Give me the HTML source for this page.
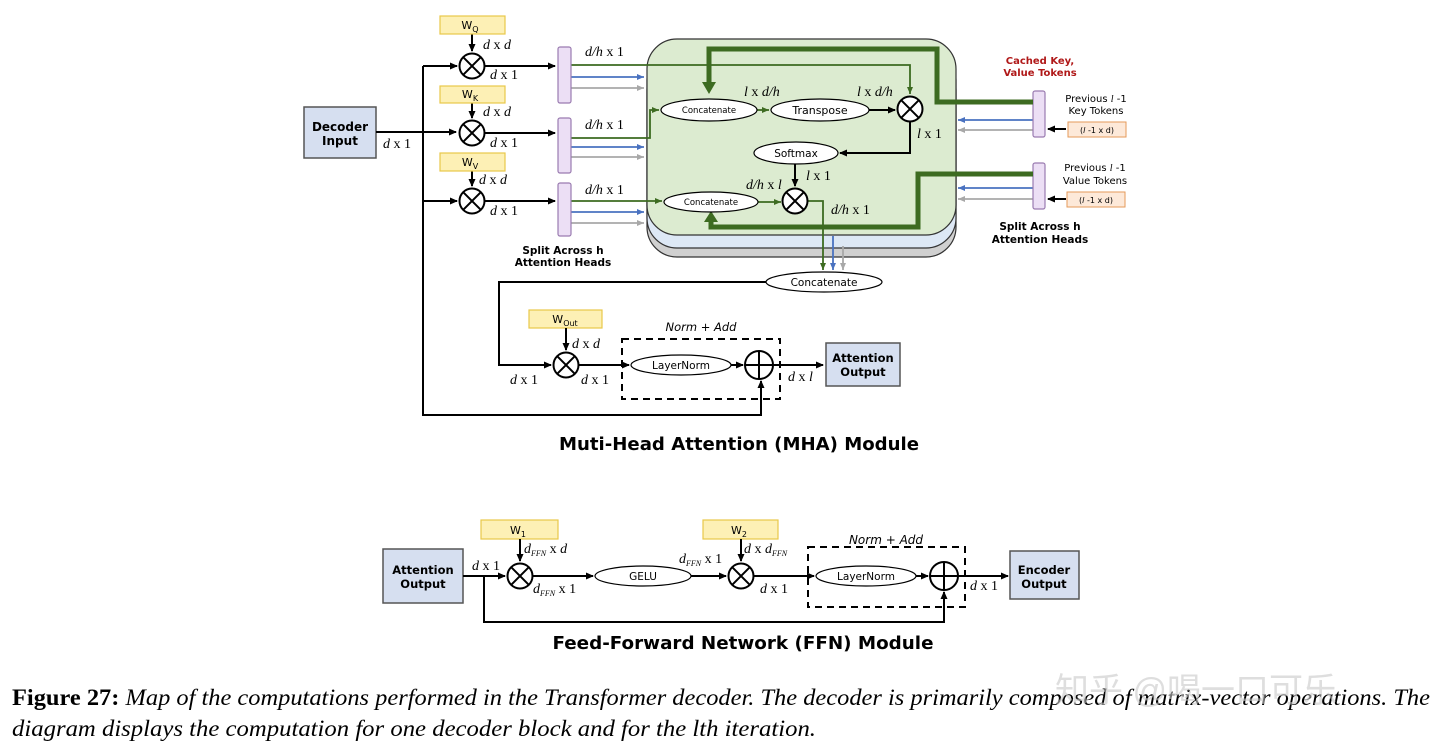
<!DOCTYPE html>
<html><head><meta charset="utf-8"><style>
html,body{margin:0;padding:0;background:#fff;}
svg{display:block}
.s{font-family:"DejaVu Sans","Liberation Sans",sans-serif;}
.m{font-family:"Liberation Serif",serif;font-style:italic;font-size:14px;}
</style></head><body>
<svg width="1440" height="750" viewBox="0 0 1440 750" xmlns="http://www.w3.org/2000/svg">
<defs>
<marker id="ak" markerWidth="8" markerHeight="8" refX="7" refY="4" orient="auto" markerUnits="userSpaceOnUse"><path d="M0,0.5 L8,4 L0,7.5z" fill="#000"/></marker>
<marker id="ag" markerWidth="8" markerHeight="8" refX="7" refY="4" orient="auto" markerUnits="userSpaceOnUse"><path d="M0,1 L7,4 L0,7z" fill="#3d6b21"/></marker>
<marker id="ab" markerWidth="8" markerHeight="8" refX="7" refY="4" orient="auto" markerUnits="userSpaceOnUse"><path d="M0,1 L7,4 L0,7z" fill="#4a72c0"/></marker>
<marker id="ay" markerWidth="8" markerHeight="8" refX="7" refY="4" orient="auto" markerUnits="userSpaceOnUse"><path d="M0,1 L7,4 L0,7z" fill="#a8a8a8"/></marker>
<marker id="aG" markerWidth="14" markerHeight="14" refX="8" refY="7" orient="auto" markerUnits="userSpaceOnUse"><path d="M0,0 L12,7 L0,14z" fill="#3d6b21"/></marker>
<g id="mul"><circle r="12.5" fill="#fff" stroke="#000" stroke-width="2"/><path d="M-8.8,-8.8 L8.8,8.8 M8.8,-8.8 L-8.8,8.8" stroke="#000" stroke-width="2"/></g>
<g id="plus"><circle r="14" fill="#fff" stroke="#000" stroke-width="2"/><path d="M-14,0 L14,0 M0,-14 L0,14" stroke="#000" stroke-width="2"/></g>
</defs>

<rect x="647" y="60" width="309" height="197" rx="30" fill="#d0d0d0" stroke="#333" stroke-width="1.2"/>
<rect x="647" y="50" width="309" height="198" rx="30" fill="#dde8f5" stroke="#333" stroke-width="1.2"/>
<rect x="647" y="39" width="309" height="196" rx="30" fill="#dcebd0" stroke="#333" stroke-width="1.2"/>

<rect x="304" y="107" width="72" height="51" fill="#d6dff0" stroke="#555" stroke-width="1.5"/>
<text class="s" x="340" y="131" font-size="12" font-weight="bold" text-anchor="middle">Decoder</text>
<text class="s" x="340" y="145" font-size="12" font-weight="bold" text-anchor="middle">Input</text>
<text class="m" x="383" y="148">d <tspan font-style="normal">x 1</tspan></text>

<g stroke="#000" stroke-width="2" fill="none">
<path d="M376,132 L456,132" marker-end="url(#ak)"/>
<path d="M423,66 L423,415 L761,415 L761,381" marker-end="url(#ak)"/>
<path d="M423,66 L457,66" marker-end="url(#ak)"/>
<path d="M423,201 L457,201" marker-end="url(#ak)"/>
<path d="M472,34 L472,51" marker-end="url(#ak)"/>
<path d="M472,103 L472,118" marker-end="url(#ak)"/>
<path d="M472,171 L472,186" marker-end="url(#ak)"/>
<path d="M485,66 L555,66" marker-end="url(#ak)"/>
<path d="M485,133 L555,133" marker-end="url(#ak)"/>
<path d="M485,201 L555,201" marker-end="url(#ak)"/>
</g>
<g fill="#fdf0b5" stroke="#e8c84a" stroke-width="1.2">
<rect x="440" y="16" width="65" height="18"/><rect x="440" y="86" width="65" height="17"/><rect x="440" y="153" width="65" height="18"/>
<rect x="529" y="310" width="73" height="18"/><rect x="481" y="520" width="77" height="19"/><rect x="703" y="520" width="75" height="19"/>
</g>
<g class="s" font-size="11" text-anchor="middle">
<text x="470" y="29">W<tspan font-size="8" dy="3">Q</tspan></text>
<text x="470" y="98">W<tspan font-size="8" dy="3">K</tspan></text>
<text x="470" y="166">W<tspan font-size="8" dy="3">V</tspan></text>
<text x="565" y="323">W<tspan font-size="8" dy="3">Out</tspan></text>
<text x="518" y="534">W<tspan font-size="8" dy="3">1</tspan></text>
<text x="739" y="534">W<tspan font-size="8" dy="3">2</tspan></text>
</g>
<use href="#mul" x="472" y="66"/><use href="#mul" x="472" y="133"/><use href="#mul" x="472" y="201"/>
<text class="m" x="483" y="49">d <tspan font-style="normal">x</tspan> d</text>
<text class="m" x="483" y="116">d <tspan font-style="normal">x</tspan> d</text>
<text class="m" x="479" y="184">d <tspan font-style="normal">x</tspan> d</text>
<text class="m" x="490" y="79">d <tspan font-style="normal">x 1</tspan></text>
<text class="m" x="490" y="147">d <tspan font-style="normal">x 1</tspan></text>
<text class="m" x="490" y="215">d <tspan font-style="normal">x 1</tspan></text>
<text class="m" x="585" y="56">d/h <tspan font-style="normal">x 1</tspan></text>
<text class="m" x="585" y="129">d/h <tspan font-style="normal">x 1</tspan></text>
<text class="m" x="585" y="194">d/h <tspan font-style="normal">x 1</tspan></text>

<g fill="none" stroke-width="1.8">
<path d="M571,65 L910,65 L910,94" stroke="#3d6b21" marker-end="url(#ag)"/>
<path d="M571,77 L644,77" stroke="#4a72c0" marker-end="url(#ab)"/>
<path d="M571,88 L644,88" stroke="#a8a8a8" marker-end="url(#ay)"/>
<path d="M571,138 L650,138 L650,110 L659,110" stroke="#3d6b21" marker-end="url(#ag)"/>
<path d="M571,147 L644,147" stroke="#4a72c0" marker-end="url(#ab)"/>
<path d="M571,157 L644,157" stroke="#a8a8a8" marker-end="url(#ay)"/>
<path d="M571,201 L662,201" stroke="#3d6b21" marker-end="url(#ag)"/>
<path d="M571,212 L644,212" stroke="#4a72c0" marker-end="url(#ab)"/>
<path d="M571,223 L644,223" stroke="#a8a8a8" marker-end="url(#ay)"/>
<path d="M1033,120 L958,120" stroke="#4a72c0" marker-end="url(#ab)"/>
<path d="M1033,130 L958,130" stroke="#a8a8a8" marker-end="url(#ay)"/>
<path d="M1033,188 L958,188" stroke="#4a72c0" marker-end="url(#ab)"/>
<path d="M1033,199 L958,199" stroke="#a8a8a8" marker-end="url(#ay)"/>
<path d="M757,110 L769,110" stroke="#3d6b21" marker-end="url(#ag)"/>
<path d="M758,202 L781,202" stroke="#3d6b21" marker-end="url(#ag)"/>
<path d="M808,201 L823,201 L823,270" stroke="#3d6b21" marker-end="url(#ag)"/>
<path d="M833,236 L833,270" stroke="#4a72c0" marker-end="url(#ab)"/>
<path d="M843,246 L843,270" stroke="#a8a8a8" marker-end="url(#ay)"/>
</g>
<g fill="#ecdff5" stroke="#9a7bb0" stroke-width="1.2">
<rect x="558" y="47" width="13" height="56" rx="2"/><rect x="558" y="118" width="13" height="55" rx="2"/><rect x="558" y="183" width="13" height="53" rx="2"/>
<rect x="1033" y="91" width="12" height="46" rx="2"/><rect x="1033" y="163" width="12" height="46" rx="2"/>
</g>
<text class="s" x="563" y="254" font-size="10.5" font-weight="bold" text-anchor="middle">Split Across h</text>
<text class="s" x="563" y="266" font-size="10.5" font-weight="bold" text-anchor="middle">Attention Heads</text>

<g fill="none" stroke="#3d6b21" stroke-width="5">
<path d="M1033,102 L937,102 L937,49 L709,49 L709,90" marker-end="url(#aG)"/>
<path d="M1033,174 L918,174 L918,227 L711,227 L711,219" />
</g>
<path d="M704,222 L711,211 L718,222z" fill="#3d6b21"/>

<g fill="#fff" stroke="#000" stroke-width="1.2">
<ellipse cx="709" cy="110" rx="48" ry="11"/><ellipse cx="820" cy="110" rx="49" ry="11"/>
<ellipse cx="796" cy="153" rx="42" ry="11"/><ellipse cx="711" cy="202" rx="47" ry="10"/>
<ellipse cx="824" cy="282" rx="58" ry="10"/>
</g>
<g class="s" text-anchor="middle">
<text x="709" y="113" font-size="8.5">Concatenate</text>
<text x="820" y="114" font-size="11">Transpose</text>
<text x="796" y="157" font-size="10.5">Softmax</text>
<text x="711" y="205" font-size="8.5">Concatenate</text>
<text x="824" y="286" font-size="10.5">Concatenate</text>
</g>
<use href="#mul" x="910" y="109"/><use href="#mul" x="795" y="201"/>
<g stroke="#000" stroke-width="2" fill="none">
<path d="M869,110 L895,110" marker-end="url(#ak)"/>
<path d="M910,122 L910,153 L840,153" marker-end="url(#ak)"/>
<path d="M795,164 L795,186" marker-end="url(#ak)"/>
<path d="M1066,129 L1048,129" marker-end="url(#ak)"/>
<path d="M1066,199 L1048,199" marker-end="url(#ak)"/>
</g>
<text class="m" x="744" y="96">l <tspan font-style="normal">x</tspan> d/h</text>
<text class="m" x="857" y="96">l <tspan font-style="normal">x</tspan> d/h</text>
<text class="m" x="917" y="138">l <tspan font-style="normal">x 1</tspan></text>
<text class="m" x="806" y="180">l <tspan font-style="normal">x 1</tspan></text>
<text class="m" x="746" y="189">d/h <tspan font-style="normal">x</tspan> l</text>
<text class="m" x="831" y="214">d/h <tspan font-style="normal">x 1</tspan></text>

<text class="s" x="1040" y="64" font-size="10" font-weight="bold" fill="#b01818" text-anchor="middle">Cached Key,</text>
<text class="s" x="1040" y="76" font-size="10" font-weight="bold" fill="#b01818" text-anchor="middle">Value Tokens</text>
<text class="s" x="1096" y="102" font-size="10" text-anchor="middle">Previous <tspan font-family="Liberation Serif" font-style="italic">l</tspan> -1</text>
<text class="s" x="1096" y="114" font-size="10" text-anchor="middle">Key Tokens</text>
<text class="s" x="1095" y="171" font-size="10" text-anchor="middle">Previous <tspan font-family="Liberation Serif" font-style="italic">l</tspan> -1</text>
<text class="s" x="1095" y="184" font-size="10" text-anchor="middle">Value Tokens</text>
<rect x="1068" y="122" width="58" height="15" fill="#fde9d9" stroke="#e59a5a"/>
<rect x="1067" y="192" width="58" height="15" fill="#fde9d9" stroke="#e59a5a"/>
<text class="s" x="1097" y="133" font-size="8" text-anchor="middle">(<tspan font-style="italic">l</tspan> -1 x d)</text>
<text class="s" x="1096" y="203" font-size="8" text-anchor="middle">(<tspan font-style="italic">l</tspan> -1 x d)</text>
<text class="s" x="1040" y="230" font-size="10.5" font-weight="bold" text-anchor="middle">Split Across h</text>
<text class="s" x="1040" y="243" font-size="10.5" font-weight="bold" text-anchor="middle">Attention Heads</text>

<g stroke="#000" stroke-width="2" fill="none">
<path d="M766,282 L499,282 L499,365 L551,365" marker-end="url(#ak)"/>
<path d="M566,328 L566,350" marker-end="url(#ak)"/>
<path d="M579,365 L629,365" marker-end="url(#ak)"/>
<path d="M731,365 L743,365" marker-end="url(#ak)"/>
<path d="M773,365 L823,365" marker-end="url(#ak)"/>
</g>
<use href="#mul" x="566" y="365"/>
<rect x="622" y="339" width="158" height="60" fill="none" stroke="#000" stroke-width="2" stroke-dasharray="7,5"/>
<ellipse cx="681" cy="365" rx="50" ry="10" fill="#fff" stroke="#000" stroke-width="1.2"/>
<text class="s" x="681" y="369" font-size="10.5" text-anchor="middle">LayerNorm</text>
<use href="#plus" x="759" y="365"/>
<text class="s" x="701" y="331" font-size="11.5" font-style="italic" text-anchor="middle">Norm + Add</text>
<text class="m" x="572" y="348">d <tspan font-style="normal">x</tspan> d</text>
<text class="m" x="510" y="384">d <tspan font-style="normal">x 1</tspan></text>
<text class="m" x="581" y="384">d <tspan font-style="normal">x 1</tspan></text>
<text class="m" x="788" y="381">d <tspan font-style="normal">x</tspan> l</text>
<rect x="826" y="343" width="74" height="43" fill="#d6dff0" stroke="#555" stroke-width="1.5"/>
<text class="s" x="863" y="362" font-size="11.5" font-weight="bold" text-anchor="middle">Attention</text>
<text class="s" x="863" y="376" font-size="11.5" font-weight="bold" text-anchor="middle">Output</text>
<text class="s" x="739" y="450" font-size="18" font-weight="bold" text-anchor="middle" textLength="360" lengthAdjust="spacingAndGlyphs">Muti-Head Attention (MHA) Module</text>

<rect x="383" y="549" width="80" height="54" fill="#d6dff0" stroke="#555" stroke-width="1.5"/>
<text class="s" x="423" y="574" font-size="11.5" font-weight="bold" text-anchor="middle">Attention</text>
<text class="s" x="423" y="588" font-size="11.5" font-weight="bold" text-anchor="middle">Output</text>
<g stroke="#000" stroke-width="2" fill="none">
<path d="M463,576 L505,576" marker-end="url(#ak)"/>
<path d="M484,576 L484,622 L944,622 L944,592" marker-end="url(#ak)"/>
<path d="M520,539 L520,561" marker-end="url(#ak)"/>
<path d="M533,576 L593,576" marker-end="url(#ak)"/>
<path d="M691,576 L726,576" marker-end="url(#ak)"/>
<path d="M741,539 L741,561" marker-end="url(#ak)"/>
<path d="M754,576 L814,576" marker-end="url(#ak)"/>
<path d="M916,576 L928,576" marker-end="url(#ak)"/>
<path d="M958,576 L1008,576" marker-end="url(#ak)"/>
</g>
<use href="#mul" x="520" y="576"/><use href="#mul" x="741" y="576"/>
<ellipse cx="643" cy="576" rx="48" ry="10" fill="#fff" stroke="#000" stroke-width="1.2"/>
<text class="s" x="643" y="580" font-size="10.5" text-anchor="middle">GELU</text>
<rect x="808" y="547" width="157" height="60" fill="none" stroke="#000" stroke-width="2" stroke-dasharray="7,5"/>
<ellipse cx="866" cy="576" rx="50" ry="10" fill="#fff" stroke="#000" stroke-width="1.2"/>
<text class="s" x="866" y="580" font-size="10.5" text-anchor="middle">LayerNorm</text>
<use href="#plus" x="944" y="576"/>
<text class="s" x="886" y="544" font-size="12" font-style="italic" text-anchor="middle">Norm + Add</text>
<rect x="1010" y="551" width="69" height="48" fill="#d6dff0" stroke="#555" stroke-width="1.5"/>
<text class="s" x="1044" y="574" font-size="11.5" font-weight="bold" text-anchor="middle">Encoder</text>
<text class="s" x="1044" y="588" font-size="11.5" font-weight="bold" text-anchor="middle">Output</text>
<text class="m" x="472" y="570">d <tspan font-style="normal">x 1</tspan></text>
<text class="m" x="524" y="553">d<tspan font-size="8" dy="3">FFN</tspan><tspan dy="-3" font-style="normal"> x</tspan> d</text>
<text class="m" x="533" y="593">d<tspan font-size="8" dy="3">FFN</tspan><tspan dy="-3" font-style="normal"> x 1</tspan></text>
<text class="m" x="679" y="563">d<tspan font-size="8" dy="3">FFN</tspan><tspan dy="-3" font-style="normal"> x 1</tspan></text>
<text class="m" x="744" y="553">d <tspan font-style="normal">x</tspan> d<tspan font-size="8" dy="3">FFN</tspan></text>
<text class="m" x="760" y="593">d <tspan font-style="normal">x 1</tspan></text>
<text class="m" x="970" y="590">d <tspan font-style="normal">x 1</tspan></text>
<text class="s" x="743" y="649" font-size="18" font-weight="bold" text-anchor="middle" textLength="381" lengthAdjust="spacingAndGlyphs">Feed-Forward Network (FFN) Module</text>

<text x="12" y="705" font-family="Liberation Serif,serif" font-size="23" textLength="1418" lengthAdjust="spacingAndGlyphs"><tspan font-weight="bold">Figure 27:</tspan><tspan font-style="italic"> Map of the computations performed in the Transformer decoder. The decoder is primarily composed of matrix-vector operations. The</tspan></text>
<text x="12" y="736" font-family="Liberation Serif,serif" font-size="23" font-style="italic" textLength="804" lengthAdjust="spacingAndGlyphs">diagram displays the computation for one decoder block and for the lth iteration.</text>
<text x="1055" y="702" font-family="'Liberation Sans','Noto Sans CJK SC',sans-serif" font-size="34" fill="#c8c8c8" fill-opacity="0.6">知乎 @喝一口可乐</text>
</svg>
</body></html>
